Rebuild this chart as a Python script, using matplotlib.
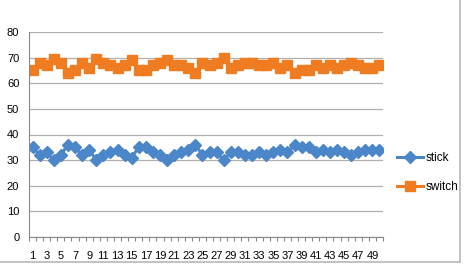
import numpy as np
import matplotlib
matplotlib.use("Agg")
import matplotlib.pyplot as plt
from matplotlib.lines import Line2D

plt.rcParams['font.family'] = ['Liberation Sans Narrow', 'Liberation Sans', 'DejaVu Sans']

# ---------------- Data ----------------
trials = list(range(1, 51))
stick = [35, 32, 33, 30, 32, 36, 35, 32, 34, 30,
         32, 33, 34, 32, 31, 35, 35, 33, 32, 30,
         32, 33, 34, 36, 32, 33, 33, 30, 33, 33,
         32, 32, 33, 32, 33, 34, 33, 36, 35, 35,
         33, 34, 33, 34, 33, 32, 33, 34, 34, 34]
switch = [65, 68, 67, 69.5, 68, 64, 65, 68, 66, 69.5,
          68, 67, 66, 67, 69, 65, 65, 67, 68, 69,
          67, 67, 66, 64, 68, 67, 68, 70, 66, 67,
          68, 68, 67, 67, 68, 66, 67, 64, 65, 65,
          67, 66, 67, 66, 67, 68, 67, 66, 66, 67]
y_ticks = [0, 10, 20, 30, 40, 50, 60, 70, 80]
x_labels = [str(t) for t in trials if t % 2 == 1]

BLUE = "#4a86c8"
ORANGE = "#f07c22"
GRID = "#b0b0b0"

fig = plt.figure(figsize=(4.71, 2.77), dpi=100)
ax = fig.add_axes([29 / 471, 1 - 237 / 277, 354 / 471, 205 / 277])

ax.plot(trials, stick, color=BLUE, lw=2.2, marker="D", ms=6, mec=BLUE, mfc=BLUE, label="stick")
ax.plot(trials, switch, color=ORANGE, lw=2.2, marker="s", ms=7, mec=ORANGE, mfc=ORANGE, label="switch")

ax.set_xlim(0.5, 50.5)
ax.set_ylim(0, 80)
ax.set_yticks(y_ticks)
ax.grid(axis="y", color=GRID, lw=0.9)
ax.set_axisbelow(True)

ax.set_xticks(trials[::2])
ax.set_xticklabels(x_labels)
ax.set_xticks(np.arange(0.5, 51, 1), minor=True)
ax.tick_params(axis="x", which="major", length=0, pad=10, labelsize=8)
ax.tick_params(axis="x", which="minor", length=3, color="#888888", width=0.8)
ax.tick_params(axis="y", length=0, pad=7, labelsize=8)

for s in ["top", "right"]:
    ax.spines[s].set_visible(False)
ax.spines["left"].set_color("#888888")
ax.spines["bottom"].set_color("#888888")

ax.legend(loc="center left", bbox_to_anchor=(1.01, 0.315), frameon=False,
          fontsize=8.5, handlelength=2.2, labelspacing=1.45, handletextpad=0.2)

# outer chart frame
fig.add_artist(Line2D([0, 460 / 471], [1 - 262 / 277] * 2, color="#b8b8b8", lw=1.2))
fig.add_artist(Line2D([460 / 471] * 2, [1 - 262 / 277, 1], color="#b8b8b8", lw=1.2))

fig.savefig("out.png", dpi=100)
